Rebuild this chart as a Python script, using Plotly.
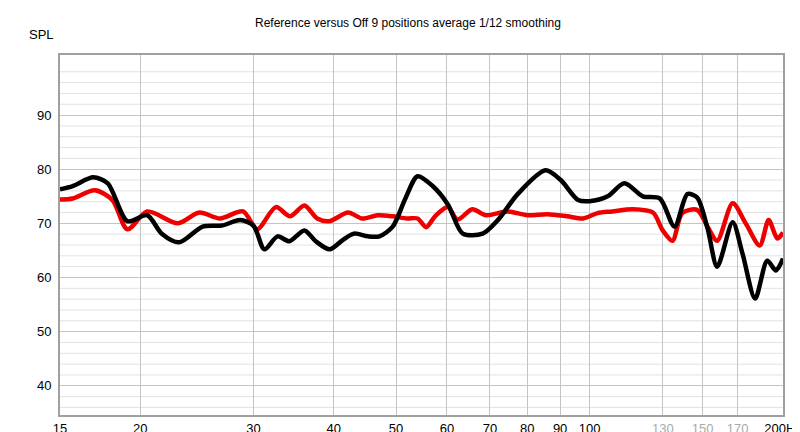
import numpy as np
import plotly.graph_objects as go

# black: Reference
ref_f = [15, 15.7, 16.9, 17.8, 19.1, 20.5, 21.6, 23.0, 25.0, 26.8, 28.6, 30.0, 31.2, 32.7, 34.1, 36.0,
         37.5, 39.4, 41.3, 43.0, 45.2, 47.1, 49.4, 51.7, 54.0, 57.0, 60.2, 63.5, 68.2, 72.0, 77.3, 85.4,
         90.2, 96.0, 100, 106.7, 113.3, 121, 128.6, 135.6, 142, 147, 152.6, 158, 167, 173, 181, 189, 195, 200]
ref_db = [76.3, 76.9, 78.5, 77.4, 70.4, 71.5, 68.1, 66.5, 69.4, 69.6, 70.6, 69.6, 65.2, 67.6, 66.7, 68.7,
          66.7, 65.2, 66.9, 68.1, 67.6, 67.6, 69.4, 74.6, 78.7, 76.9, 73.5, 68.1, 68.1, 70.6, 75.4, 79.8,
          78.0, 74.3, 74.1, 75.0, 77.4, 75.0, 74.6, 69.4, 75.4, 74.8, 69.1, 62.0, 70.2, 64.4, 56.1, 63.1, 61.3, 63.5]

# red: Off 9 positions average
off_f = [15, 15.7, 17.0, 18.1, 19.1, 20.5, 22.9, 24.7, 26.6, 28.9, 30.4, 32.5, 34.2, 36.0, 37.7, 39.4,
         42.1, 44.3, 46.8, 49.4, 52.0, 54.0, 55.7, 57.5, 60.2, 62.3, 65.7, 69.0, 74.5, 80.1, 86.0, 92.3,
         97.7, 102.9, 108.5, 116.8, 125.5, 130, 134.6, 139.4, 147, 152.6, 158, 167, 175, 184, 190, 196, 200]
off_db = [74.4, 74.6, 76.1, 74.3, 68.9, 72.2, 70.0, 72.0, 70.9, 72.2, 68.9, 73.0, 71.3, 73.3, 70.9, 70.4,
          72.0, 70.9, 71.5, 71.3, 70.9, 70.9, 69.3, 71.3, 73.0, 70.7, 72.6, 71.5, 72.2, 71.5, 71.7, 71.3,
          70.9, 71.9, 72.2, 72.6, 72.0, 68.7, 66.8, 71.9, 72.5, 69.4, 66.8, 73.7, 70.0, 65.9, 70.6, 67.2, 68.3]

tick_vals = [15, 20, 30, 40, 50, 60, 70, 80, 90, 100, 130, 150, 170, 200]
tick_text = ["15", "20", "30", "40", "50", "60", "70", "80", "90", "100",
             "<span style='color:#aaaaaa'>130</span>", "<span style='color:#aaaaaa'>150</span>",
             "<span style='color:#aaaaaa'>170</span>", "200Hz"]

fig = go.Figure()
# minor vertical grid above 100 Hz
for f in range(110, 200, 10):
    fig.add_vline(x=np.log10(f), line=dict(color="#dddddd", width=1), layer="below")
# minor horizontal grid every 2 dB
for d in range(36, 102, 2):
    if d % 10:
        fig.add_hline(y=d, line=dict(color="#e2e2e2", width=1), layer="below")
fig.add_vline(x=2, line=dict(color="#888888", width=1), layer="below")

fig.add_trace(go.Scatter(x=off_f, y=off_db, mode="lines",
                         line=dict(color="#ee0000", width=4.5, shape="spline", smoothing=0.8),
                         showlegend=False))
fig.add_trace(go.Scatter(x=ref_f, y=ref_db, mode="lines",
                         line=dict(color="black", width=4.5, shape="spline", smoothing=0.8),
                         showlegend=False))

fig.update_layout(
    width=800, height=432, margin=dict(l=52, r=25, t=47, b=25),
    paper_bgcolor="white", plot_bgcolor="white",
    font=dict(family="Liberation Sans, Arial", size=13, color="black"),
    title=dict(text="Reference versus Off 9 positions average 1/12 smoothing", x=0.5, y=0.975,
               xanchor="center", font=dict(size=12)),
    xaxis=dict(type="log", range=[np.log10(15), np.log10(200)], tickvals=tick_vals, ticktext=tick_text,
               showgrid=True, gridcolor="#c4c4c4", zeroline=False, ticks="", automargin=False,
               showline=True, linecolor="#a0a0a0", linewidth=2, mirror=True),
    yaxis=dict(range=[34.6, 101.1], tickvals=[40, 50, 60, 70, 80, 90], showgrid=True, gridcolor="#c4c4c4",
               zeroline=False, ticks="", automargin=False, ticklabelstandoff=4,
               showline=True, linecolor="#a0a0a0", linewidth=2, mirror=True),
    annotations=[dict(text="SPL", x=-0.045, y=1.03, xref="paper", yref="paper",
                      xanchor="left", yanchor="bottom", showarrow=False)],
)
fig.write_html("out.html")
